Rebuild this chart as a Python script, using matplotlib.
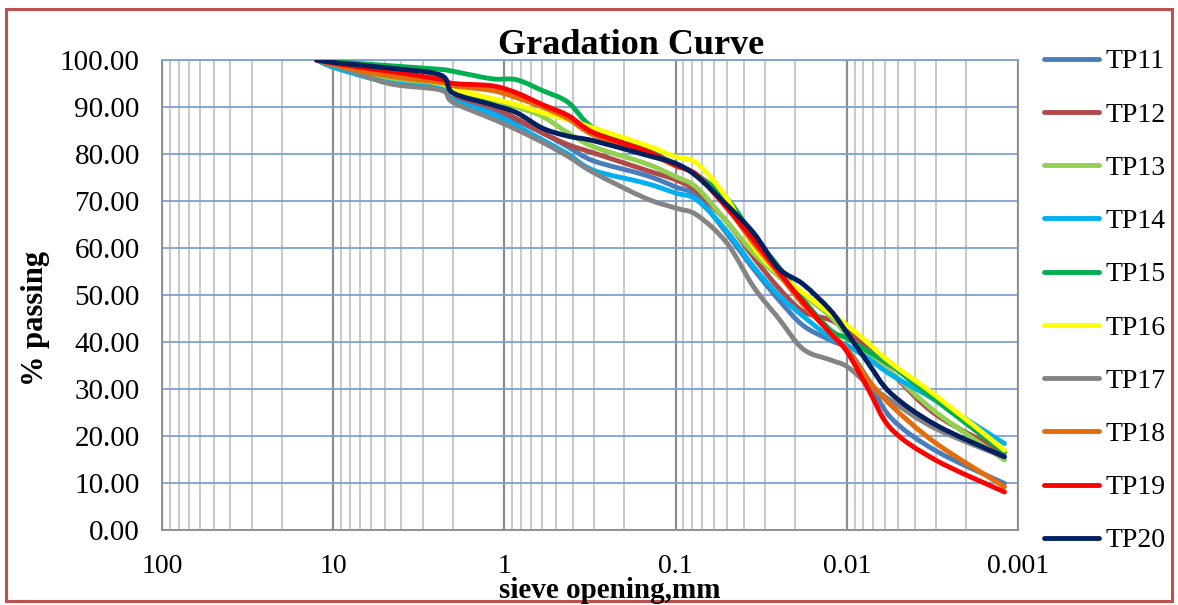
import numpy as np
import matplotlib.pyplot as plt
from matplotlib.path import Path
from matplotlib.patches import PathPatch, Rectangle
from matplotlib.lines import Line2D
from matplotlib.ticker import FixedLocator, NullFormatter

plt.rcParams['font.family'] = ['Liberation Serif', 'DejaVu Serif']

# sieve / hydrometer particle sizes (mm)
sieve_mm = [12.5, 9.5, 4.75, 2.36, 2.0, 1.18, 0.85, 0.6, 0.425, 0.3, 0.15, 0.1,
            0.075, 0.05, 0.035, 0.025, 0.018, 0.0125, 0.01, 0.0075, 0.0055, 0.003, 0.0012]

# percent passing for each test pit
tp11 = [100, 98.5, 95.5, 94.0, 92.0, 89.0, 87.0, 84.5, 81.5, 78.5, 75.5, 73.0,
        71.0, 63.0, 55.5, 49.0, 43.5, 40.4, 38.5, 32.0, 23.8, 16.8, 9.9]
tp12 = [100, 99.0, 96.0, 94.3, 92.5, 90.0, 87.5, 84.5, 82.0, 80.2, 76.6, 74.5,
        72.0, 65.5, 58.0, 51.5, 46.5, 44.7, 42.5, 38.5, 33.5, 24.5, 16.5]
tp13 = [100, 98.2, 95.8, 94.2, 92.8, 91.5, 90.0, 88.0, 84.5, 81.5, 78.0, 75.2,
        72.8, 65.5, 58.9, 54.0, 50.0, 45.5, 41.5, 37.0, 33.5, 25.0, 14.9]
tp14 = [100, 98.2, 95.2, 93.9, 91.5, 88.5, 86.0, 83.0, 80.0, 76.5, 73.8, 71.7,
        70.2, 63.5, 56.0, 50.0, 45.5, 41.0, 39.3, 36.5, 33.0, 27.5, 18.4]
tp15 = [100, 99.6, 98.8, 98.0, 97.6, 96.0, 95.8, 93.5, 91.0, 85.5, 81.0, 77.8,
        75.5, 70.5, 62.5, 56.0, 49.0, 42.6, 40.8, 38.0, 35.0, 27.5, 16.5]
tp16 = [100, 99.3, 97.0, 95.0, 93.8, 91.8, 90.5, 88.8, 87.3, 85.5, 81.9, 79.4,
        78.0, 70.5, 60.2, 54.5, 50.5, 46.1, 43.6, 39.8, 35.5, 28.5, 17.0]
tp17 = [100, 98.8, 95.0, 93.6, 91.0, 87.5, 85.2, 82.5, 79.5, 76.0, 70.6, 68.5,
        67.0, 61.0, 51.7, 45.0, 38.5, 36.2, 34.8, 31.0, 27.5, 21.5, 15.5]
tp18 = [100, 98.8, 96.6, 95.2, 94.5, 93.5, 92.0, 90.0, 87.5, 84.0, 80.3, 77.5,
        75.5, 68.5, 61.0, 54.5, 48.0, 42.0, 38.5, 32.0, 26.5, 18.4, 9.2]
tp19 = [100, 99.2, 97.6, 95.9, 95.0, 94.5, 93.0, 90.5, 88.2, 84.5, 80.7, 77.6,
        75.5, 68.5, 61.7, 55.0, 48.5, 41.9, 38.0, 30.0, 21.5, 14.8, 8.1]
tp20 = [100, 99.4, 98.3, 96.8, 93.0, 90.5, 88.8, 85.5, 83.8, 82.8, 79.8, 78.0,
        75.2, 69.1, 63.2, 55.7, 52.3, 46.8, 42.0, 35.5, 29.0, 22.3, 15.6]

series_names = ['TP11', 'TP12', 'TP13', 'TP14', 'TP15', 'TP16', 'TP17', 'TP18', 'TP19', 'TP20']
series_values = [tp11, tp12, tp13, tp14, tp15, tp16, tp17, tp18, tp19, tp20]
series_colors = ['#4A7EBB', '#B0494A', '#92D050', '#00B0F0', '#00B050',
                 '#FFFF00', '#848484', '#E46C0A', '#FF0000', '#002060']

x_ticks = [100, 10, 1, 0.1, 0.01, 0.001]
x_tick_labels = ['100', '10', '1', '0.1', '0.01', '0.001']
y_ticks = [0, 10, 20, 30, 40, 50, 60, 70, 80, 90, 100]
y_tick_labels = ['%.2f' % v for v in y_ticks]


def smooth_path(sizes, values):
    # Bezier path through the points (Catmull-Rom style), built in log-x space
    lx = np.log10(sizes)
    y = np.asarray(values, dtype=float)
    pts = np.column_stack([lx, y])
    n = len(pts)
    verts = [pts[0]]
    codes = [Path.MOVETO]
    for i in range(n - 1):
        p0 = pts[max(i - 1, 0)]
        p1 = pts[i]
        p2 = pts[i + 1]
        p3 = pts[min(i + 2, n - 1)]
        c1 = p1 + (p2 - p0) / 6.0
        c2 = p2 - (p3 - p1) / 6.0
        verts += [c1, c2, p2]
        codes += [Path.CURVE4] * 3
    verts = np.array(verts)
    verts[:, 0] = 10 ** verts[:, 0]
    return Path(verts, codes)


fig = plt.figure(figsize=(11.78, 6.05), dpi=100)
ax = fig.add_axes([162 / 1178, 75 / 605, 856 / 1178, 470 / 605])

ax.set_xscale('log')
ax.set_xlim(100, 0.001)
ax.set_ylim(0, 100)

lw = 3.5
for name, vals, col in zip(series_names, series_values, series_colors):
    patch = PathPatch(smooth_path(sieve_mm, vals), facecolor='none', edgecolor=col,
                      lw=lw, capstyle='round', joinstyle='round', zorder=3)
    ax.add_patch(patch)

# grid
ax.xaxis.set_major_locator(FixedLocator(x_ticks))
ax.xaxis.set_minor_locator(FixedLocator([m * 10.0 ** e for e in range(-3, 2) for m in range(2, 10)]))
ax.xaxis.set_minor_formatter(NullFormatter())
ax.set_xticks(x_ticks)
ax.set_xticklabels(x_tick_labels)
ax.set_yticks(y_ticks)
ax.set_yticklabels(y_tick_labels)
ax.grid(True, which='major', axis='x', color='#8C8C8C', lw=1.6, zorder=1)
ax.grid(True, which='minor', axis='x', color='#C8C8C8', lw=1.4, zorder=1)
ax.grid(True, which='major', axis='y', color='#7FA0D2', lw=1.3, zorder=1)
ax.set_axisbelow(True)

for side in ['left', 'bottom', 'right']:
    ax.spines[side].set_color('#8C8C8C')
    ax.spines[side].set_linewidth(1.3)
ax.spines['top'].set_color('#7FA0D2')
ax.spines['top'].set_linewidth(1.3)

ax.tick_params(axis='both', which='both', length=0)
ax.tick_params(axis='x', labelsize=20, pad=17)
ax.tick_params(axis='y', labelsize=21, pad=16)

fig.text(631 / 1178, 1 - 45 / 605, 'Gradation Curve', ha='center', va='center',
         fontsize=26, fontweight='bold')
fig.text(610 / 1178, 1 - 591 / 605, 'sieve opening,mm', ha='center', va='center',
         fontsize=21, fontweight='bold')
fig.text(35 / 1178, 1 - 318 / 605, '% passing', ha='center', va='center',
         rotation=90, fontsize=22, fontweight='bold')

handles = [Line2D([], [], color=c, lw=lw, solid_capstyle='round') for c in series_colors]
fig.legend(handles, series_names, loc='upper left',
           bbox_to_anchor=(1044 / 1178, 1 - 49 / 605), frameon=False,
           fontsize=20, handlelength=1.98, handletextpad=0.25, labelspacing=1.0,
           borderaxespad=0, borderpad=0)

# outer chart border
fig.patches.append(Rectangle((6 / 1178, 4 / 605), 1166 / 1178, 592 / 605,
                             transform=fig.transFigure, fill=False,
                             edgecolor='#C0504D', lw=2.2))

fig.savefig('out.png', dpi=100)
